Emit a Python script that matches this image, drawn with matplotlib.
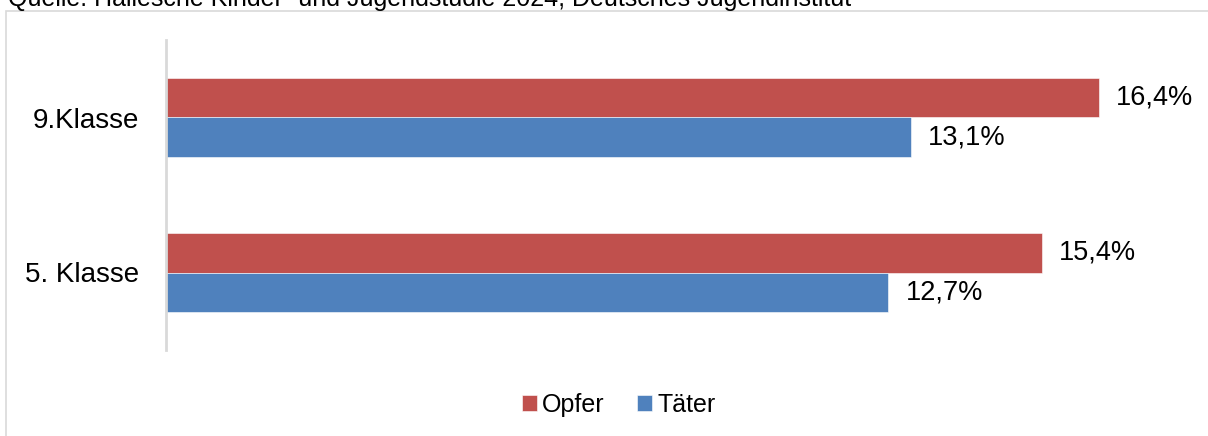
from matplotlib import pyplot as plt
from matplotlib.patches import Rectangle
import numpy as np

plt.rcParams['font.family'] = ['Liberation Sans', 'DejaVu Sans']

categories = ['5. Klasse', '9.Klasse']
opfer = [15.4, 16.4]
taeter = [12.7, 13.1]
series_names = ['Opfer', 'Täter']
source = 'Quelle: Hallesche Kinder- und Jugendstudie 2024, Deutsches Jugendinstitut'

RED = '#c0504d'
BLUE = '#4f81bd'

W, H = 1208, 436
fig = plt.figure(figsize=(W / 100, H / 100), dpi=100)

# outer chart frame (cut off right and bottom)
fig.patches.append(Rectangle((6 / W, -0.1), 1.1, 1 - 11 / H + 0.1,
                             transform=fig.transFigure, fill=False,
                             edgecolor='#d9d9d9', linewidth=1.2))

# source line at the very top, cut off as in the original screenshot
fig.text(8 / W, 1 - 6 / H, source, fontsize=18, va='baseline', ha='left',
         color='black')

ax = fig.add_axes([166 / W, 86 / H, 1024 / W, 310 / H])

y = np.arange(len(categories))
h = 0.255
ax.barh(y + h / 2, opfer, height=h, color=RED, edgecolor='white',
        linewidth=0.4, label=series_names[0])
ax.barh(y - h / 2, taeter, height=h, color=BLUE, edgecolor='white',
        linewidth=0.4, label=series_names[1])

for yi, v in zip(y, opfer):
    ax.text(v + 0.3, yi + h / 2, '{:.1f}%'.format(v).replace('.', ','),
            va='center', ha='left', fontsize=19.5)
for yi, v in zip(y, taeter):
    ax.text(v + 0.3, yi - h / 2, '{:.1f}%'.format(v).replace('.', ','),
            va='center', ha='left', fontsize=19.5)

ax.set_xlim(0, 18)
ax.set_ylim(-0.5, 1.5)
ax.set_yticks(y)
ax.set_yticklabels(categories, fontsize=20)
ax.set_xticks([])
ax.tick_params(axis='y', length=0, pad=19.5)
for s in ['top', 'right', 'bottom']:
    ax.spines[s].set_visible(False)
ax.spines['left'].set_color('#d9d9d9')
ax.spines['left'].set_linewidth(2)

fig.legend(loc='center', bbox_to_anchor=(619 / W, 1 - 405 / H), ncol=2,
           frameon=False, fontsize=18, handlelength=0.6, handleheight=0.6,
           handletextpad=0.2, columnspacing=1.3)

fig.savefig('out.png', dpi=100)
